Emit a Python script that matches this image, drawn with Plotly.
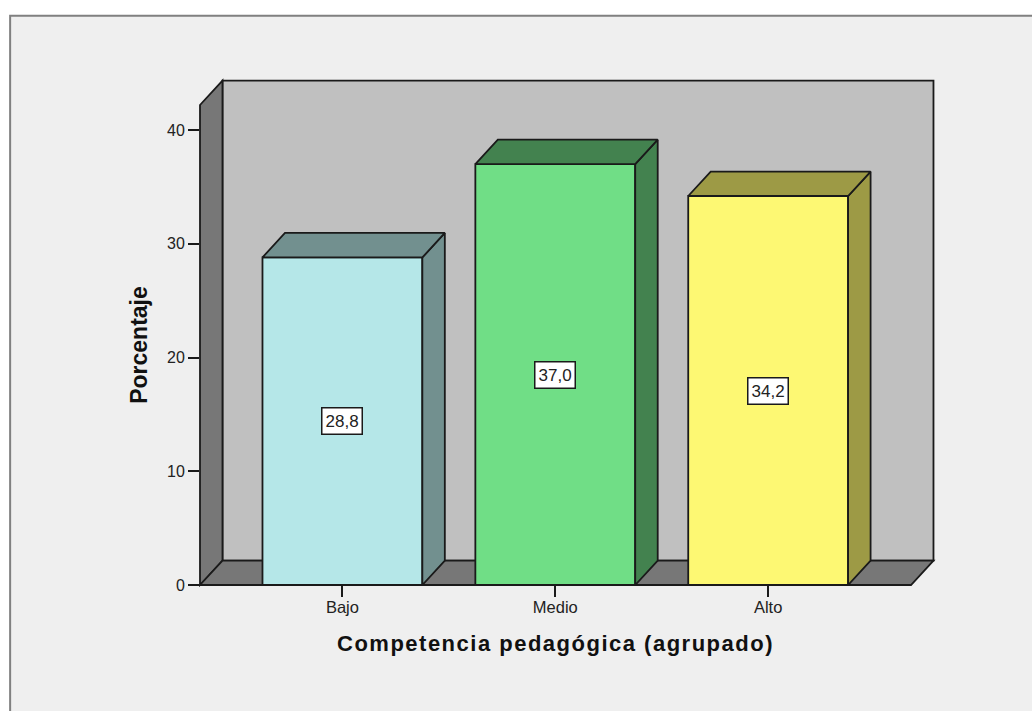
import plotly.graph_objects as go

categorias = ["Bajo", "Medio", "Alto"]
porcentajes = [28.8, 37.0, 34.2]
y_ticks = [0, 10, 20, 30, 40]

_FRONT = ["#b5e7e8", "#70de86", "#fdf873"]
_SIDE = ["#72908f", "#43824f", "#9d9a45"]
_EDGE = "#1a1a1a"
_WALL = "#c0c0c0"
_DARK = "#777777"
_PANEL = "#efefef"
_FONT = "Liberation Sans, Arial, sans-serif"
_LW = 1.8

W, H = 1032, 711
L, R, T, B = 199.5, 121, 104.5, 125.5
plot_w = W - L - R
plot_h = H - T - B

# rango de los ejes: una categoria = 213 px, 10 % = 113.9 px
x_range = [-0.669, 2.671]
y_range = [0, 42.2]
bar_width = 0.751
dx = 22.5 / 213
dy = 24.5 / 11.39
dx_paper = 22.5 / plot_w
dy_paper = 24.5 / plot_h

# sin margen del body y con el espaciado de letras del titulo de x
_POST = """
document.body.style.margin = '0';
document.querySelectorAll('.xtitle').forEach(t => t.style.letterSpacing = '1.5px');
"""


def _paper_path(points):
    return "M " + " L ".join(f"{x},{y}" for x, y in points) + " Z"


def _wall(points, color):
    return dict(
        type="path",
        xref="paper",
        yref="paper",
        path=_paper_path(points),
        fillcolor=color,
        line=dict(color=_EDGE, width=_LW),
        layer="below",
    )


shapes = [
    # panel gris de fondo, se sale por la derecha y por abajo
    dict(
        type="rect",
        xref="paper",
        yref="paper",
        x0=(9.5 - L) / plot_w,
        x1=(W + 20 - L) / plot_w,
        y0=-(B + 20) / plot_h,
        y1=(H - B - 15) / plot_h,
        fillcolor=_PANEL,
        line=dict(color="#808080", width=2),
        layer="below",
    ),
    _wall(
        [(dx_paper, dy_paper), (1 + dx_paper, dy_paper), (1 + dx_paper, 1 + dy_paper), (dx_paper, 1 + dy_paper)],
        _WALL,
    ),
    _wall([(0, 0), (dx_paper, dy_paper), (dx_paper, 1 + dy_paper), (0, 1)], _DARK),
    _wall([(0, 0), (1, 0), (1 + dx_paper, dy_paper), (dx_paper, dy_paper)], _DARK),
]

fig = go.Figure()

fig.add_trace(
    go.Bar(
        x=list(range(len(categorias))),
        y=porcentajes,
        width=bar_width,
        marker=dict(color=_FRONT, line=dict(color=_EDGE, width=_LW)),
        hovertemplate="%{y:.1f}<extra></extra>",
    )
)

# caras lateral y superior de cada barra
for i, valor in enumerate(porcentajes):
    izq = i - bar_width / 2
    der = i + bar_width / 2
    fig.add_trace(
        go.Scatter(
            x=[der, der + dx, der + dx, der, der],
            y=[0, dy, valor + dy, valor, 0],
            mode="lines",
            fill="toself",
            fillcolor=_SIDE[i],
            line=dict(color=_EDGE, width=_LW),
            hoverinfo="skip",
        )
    )
    fig.add_trace(
        go.Scatter(
            x=[izq, der, der + dx, izq + dx, izq],
            y=[valor, valor, valor + dy, valor + dy, valor],
            mode="lines",
            fill="toself",
            fillcolor=_SIDE[i],
            line=dict(color=_EDGE, width=_LW),
            hoverinfo="skip",
        )
    )

annotations = [
    dict(
        x=i,
        y=valor / 2,
        text=f"{valor:.1f}".replace(".", ","),
        showarrow=False,
        font=dict(family=_FONT, size=17, color="#222222"),
        bgcolor="white",
        bordercolor=_EDGE,
        borderwidth=1.5,
        borderpad=3,
    )
    for i, valor in enumerate(porcentajes)
]

fig.update_layout(
    width=W,
    height=H,
    margin=dict(l=L, r=R, t=T, b=B),
    paper_bgcolor="white",
    plot_bgcolor="rgba(0,0,0,0)",
    showlegend=False,
    shapes=shapes,
    annotations=annotations,
    font=dict(family=_FONT, color="#222222"),
    xaxis=dict(
        range=x_range,
        tickvals=list(range(len(categorias))),
        ticktext=categorias,
        ticks="outside",
        ticklen=11,
        tickwidth=1.8,
        tickcolor=_EDGE,
        tickfont=dict(size=16.5),
        ticklabelstandoff=-4,
        showgrid=False,
        zeroline=False,
        showline=False,
        title=dict(
            text="<b>Competencia pedagógica (agrupado)</b>",
            font=dict(size=22, color="#111111"),
            standoff=20,
        ),
    ),
    yaxis=dict(
        range=y_range,
        tickvals=y_ticks,
        ticks="outside",
        ticklen=11,
        tickwidth=1.8,
        tickcolor=_EDGE,
        tickfont=dict(size=16),
        showgrid=False,
        zeroline=False,
        showline=False,
        title=dict(
            text="<b>Porcentaje</b>",
            font=dict(size=23, color="#111111"),
            standoff=12,
        ),
    ),
)

fig.write_html("out.html", config={"displayModeBar": False}, post_script=_POST)
